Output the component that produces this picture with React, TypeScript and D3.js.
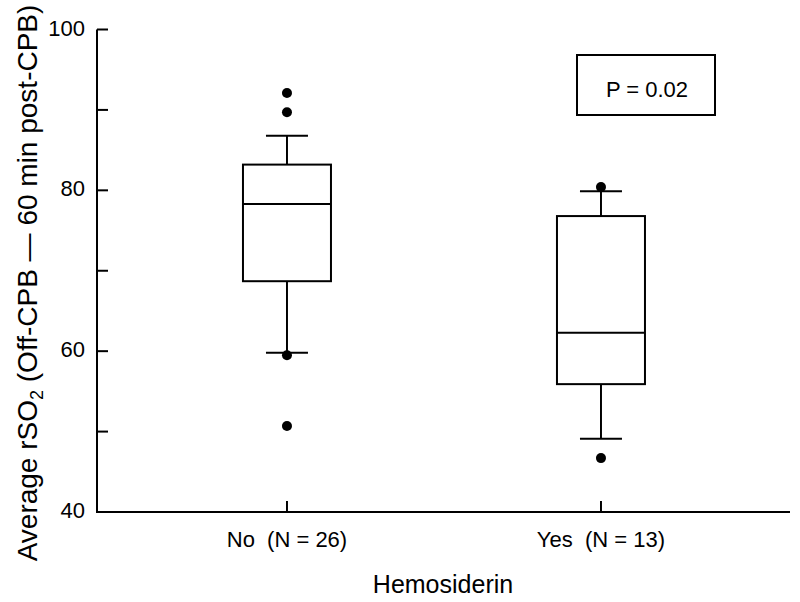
import React from "react";
import * as d3 from "d3";

const categories = ["No  (N = 26)", "Yes  (N = 13)"];
const q1 = [68.7, 55.9];
const medians = [78.3, 62.3];
const q3 = [83.2, 76.8];
const whiskerLow = [59.8, 49.1];
const whiskerHigh = [86.8, 79.9];
const outliers = [
  [92.1, 89.7, 59.5, 50.7],
  [80.4, 46.7],
];
const yTicks = [40, 50, 60, 70, 80, 90, 100];
const yTickLabels = [40, 60, 80, 100];
const pLabel = "P = 0.02";

const W = 800;
const H = 602;
const FONT = "'Liberation Sans', Arial, Helvetica, sans-serif";

export default function App() {
  const y = d3.scaleLinear().domain([40, 100]).range([512, 29.5]);
  const x = d3.scaleLinear().domain([-0.605, 1.602]).range([97, 790]);
  const boxHalf = 44;
  const capHalf = 21;
  const sw = 2;

  return (
    <svg
      width={W}
      height={H}
      style={{ position: "absolute", left: 0, top: 0, background: "#fff" }}
      fontFamily={FONT}
    >
      <rect x={0} y={0} width={W} height={H} fill="#fff" />
      {/* axes */}
      <line x1={x.range()[0]} x2={x.range()[0]} y1={y(100)} y2={y(40)} stroke="#000" strokeWidth={sw} />
      <line x1={x.range()[0] - 1} x2={x.range()[1]} y1={y(40)} y2={y(40)} stroke="#000" strokeWidth={sw} />
      {yTicks.map((t) => (
        <line key={t} x1={x.range()[0]} x2={x.range()[0] + 11} y1={y(t)} y2={y(t)} stroke="#000" strokeWidth={sw} />
      ))}
      {yTickLabels.map((t) => (
        <text key={t} x={85} y={y(t) + 6} textAnchor="end" fontSize={22} fill="#000">
          {t}
        </text>
      ))}
      {categories.map((c, i) => (
        <g key={c}>
          <line x1={x(i)} x2={x(i)} y1={y(40)} y2={y(40) - 11} stroke="#000" strokeWidth={sw} />
          <text x={x(i)} y={547} textAnchor="middle" fontSize={22} style={{ whiteSpace: "pre" }}>
            {c}
          </text>
        </g>
      ))}
      <text x={443} y={593} textAnchor="middle" fontSize={25}>
        Hemosiderin
      </text>
      <text transform={`translate(37,283) rotate(-90)`} textAnchor="middle" fontSize={28}>
        Average rSO
        <tspan fontSize={18} dy={6}>2</tspan>
        <tspan dy={-6}> (Off-CPB — 60 min post-CPB)</tspan>
      </text>

      {/* boxes */}
      {categories.map((c, i) => {
        const cx = x(i);
        return (
          <g key={"b" + i} stroke="#000" strokeWidth={sw} fill="none">
            <line x1={cx} x2={cx} y1={y(q3[i])} y2={y(whiskerHigh[i])} />
            <line x1={cx} x2={cx} y1={y(q1[i])} y2={y(whiskerLow[i])} />
            <line x1={cx - capHalf} x2={cx + capHalf} y1={y(whiskerHigh[i])} y2={y(whiskerHigh[i])} />
            <line x1={cx - capHalf} x2={cx + capHalf} y1={y(whiskerLow[i])} y2={y(whiskerLow[i])} />
            <rect x={cx - boxHalf} y={y(q3[i])} width={boxHalf * 2} height={y(q1[i]) - y(q3[i])} fill="#fff" />
            <line x1={cx - boxHalf} x2={cx + boxHalf} y1={y(medians[i])} y2={y(medians[i])} />
            {outliers[i].map((o, j) => (
              <circle key={j} cx={cx} cy={y(o)} r={5} fill="#000" stroke="none" />
            ))}
          </g>
        );
      })}

      {/* P value box */}
      <rect x={577} y={55} width={138} height={60} fill="#fff" stroke="#000" strokeWidth={sw} />
      <text x={647} y={97} textAnchor="middle" fontSize={22}>
        {pLabel}
      </text>
    </svg>
  );
}
